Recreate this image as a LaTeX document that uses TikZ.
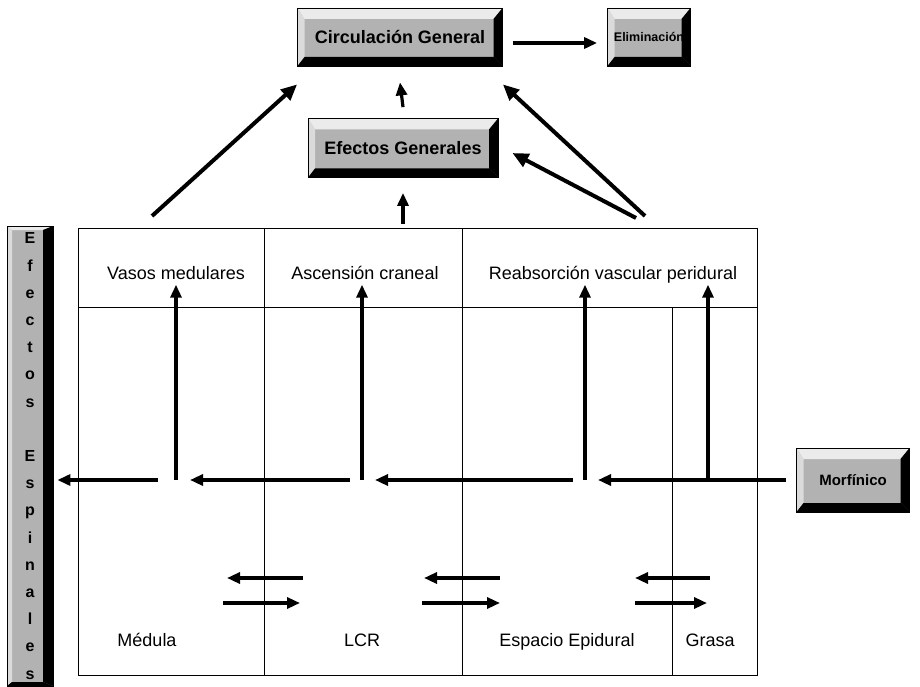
\documentclass[tikz,border=0pt]{standalone}
\usepackage{fontspec}
\setmainfont{Liberation Sans}
\usetikzlibrary{arrows.meta,calc}
\def\bvT{11pt}\def\bvL{7pt}\def\bvR{9pt}\def\bvB{9pt}
\tikzset{
  lbl/.style={font=\fontsize{18}{18}\selectfont, inner sep=2pt, text height=13pt, text depth=3.5pt, anchor=base},
  gridline/.style={line width=0.6pt},
  arr/.style={line width=3.2pt, -{Triangle[length=13pt,width=11pt]}},
  darr/.style={line width=4pt, -{Triangle[length=16pt,width=14pt]}},
  tallbevel/.code={\def\bvT{4pt}\def\bvL{5pt}\def\bvR{10pt}\def\bvB{4pt}},
  bevel/.style={draw=black, line width=0.8pt, fill=black!30, inner sep=0pt,
    font=\bfseries\fontsize{18}{18}\selectfont,
    path picture={
      \path (path picture bounding box.south west) coordinate (bbsw)
            (path picture bounding box.north east) coordinate (bbne)
            (path picture bounding box.north west) coordinate (bbnw)
            (path picture bounding box.south east) coordinate (bbse);
      \fill[black!8] (bbnw) -- (bbne) -- ([shift={(-\bvR,-\bvT)}]bbne) -- ([shift={(\bvL,-\bvT)}]bbnw) -- cycle;
      \fill[black!14] (bbnw) -- ([shift={(\bvL,-\bvT)}]bbnw) -- ([shift={(\bvL,\bvB)}]bbsw) -- (bbsw) -- cycle;
      \fill[black] (bbne) -- (bbse) -- ([shift={(-\bvR,\bvB)}]bbse) -- ([shift={(-\bvR,-\bvT)}]bbne) -- cycle;
      \fill[black] (bbsw) -- (bbse) -- ([shift={(-\bvR,\bvB)}]bbse) -- ([shift={(\bvL,\bvB)}]bbsw) -- cycle;
    }}
}
\begin{document}
\begin{tikzpicture}[x=1pt,y=-1pt]
\useasboundingbox (0,0) rectangle (920,687);

% grid
\draw[gridline] (78,228) rectangle (757,675);
\draw[gridline] (78,307) -- (757,307);
\draw[gridline] (264,228) -- (264,675);
\draw[gridline] (462,228) -- (462,675);
\draw[gridline] (672,307) -- (672,675);

% labels
\node[lbl] (vasos) at (176,279) {Vasos medulares};
\node[lbl] (ascen) at (365,279) {Ascensión craneal};
\node[lbl] (reab) at (613,279) {Reabsorción vascular peridural};
\node[lbl] (medula) at (147,646) {Médula};
\node[lbl] (lcr) at (362,646) {LCR};
\node[lbl] (epid) at (567,646) {Espacio Epidural};
\node[lbl] (grasa) at (710,646) {Grasa};

% bevel boxes
\node[bevel, minimum width=205pt, minimum height=58pt] (circ) at (400,37) {Circulación General};
\node[bevel, minimum width=83pt, minimum height=58pt, font=\bfseries\fontsize{12.5}{12.5}\selectfont] (elim) at (649,37) {Eliminación};
\node[bevel, minimum width=190pt, minimum height=59pt] (efg) at (403,148) {Efectos Generales};
\node[bevel, minimum width=113pt, minimum height=64pt, font=\bfseries\fontsize{15}{15}\selectfont] (morf) at (853,480) {Morfínico};
\node[bevel, tallbevel, minimum width=46pt, minimum height=460pt, align=center,
      font=\bfseries\fontsize{16}{27.2}\selectfont] (espin) at (30,456)
      {E\\f\\e\\c\\t\\o\\s\\[27.2pt]E\\s\\p\\i\\n\\a\\l\\e\\s};

% top arrows
\draw[arr] ([shift={(10pt,-6pt)}]circ.east) -- ([shift={(-10pt,-6pt)}]elim.west);
\draw[arr] ([yshift=11pt]efg.north) -- ([yshift=-16pt]circ.south);
\coordinate (a0) at (403,224);
\draw[arr] (a0) -- ([yshift=-15pt]efg.south);

\coordinate (d1) at (152,216);
\coordinate (d2) at (645,216);
\coordinate (d3) at (636,218);
\draw[darr] (d1) -- ([yshift=-18pt]circ.south west);
\draw[darr] (d2) -- ([yshift=-18pt]circ.south east);
\draw[darr] (d3) -- ([shift={(14pt,-5pt)}]efg.east);

% vertical arrows
\coordinate (v1) at (176,480);
\coordinate (v2) at (362,480);
\coordinate (v3) at (585,480);
\coordinate (v4) at (708,480);
\draw[arr] (v1) -- (v1 |- vasos.south);
\draw[arr] (v2) -- (v2 |- ascen.south);
\draw[arr] (v3) -- (v3 |- reab.south);
\draw[arr] (v4) -- (v4 |- reab.south);

% horizontal chain
\coordinate (ee) at (espin.east |- v1);
\draw[arr] ([xshift=-10pt]morf.west) -- ([xshift=13pt]v3);
\draw[arr] ([xshift=-12pt]v3) -- ([xshift=13pt]v2);
\draw[arr] ([xshift=-12pt]v2) -- ([xshift=14pt]v1);
\draw[arr] ([xshift=-18pt]v1) -- ([xshift=4pt]ee);

% exchange arrows
\coordinate (p1a) at (303,578); \coordinate (p1b) at (227,578);
\coordinate (p1c) at (223,603); \coordinate (p1d) at (300,603);
\coordinate (p2a) at (500,578); \coordinate (p2b) at (424,578);
\coordinate (p2c) at (422,603); \coordinate (p2d) at (500,603);
\coordinate (p3a) at (710,578); \coordinate (p3b) at (635,578);
\coordinate (p3c) at (635,603); \coordinate (p3d) at (707,603);
\draw[arr] (p1a) -- (p1b);
\draw[arr] (p1c) -- (p1d);
\draw[arr] (p2a) -- (p2b);
\draw[arr] (p2c) -- (p2d);
\draw[arr] (p3a) -- (p3b);
\draw[arr] (p3c) -- (p3d);
\end{tikzpicture}
\end{document}
